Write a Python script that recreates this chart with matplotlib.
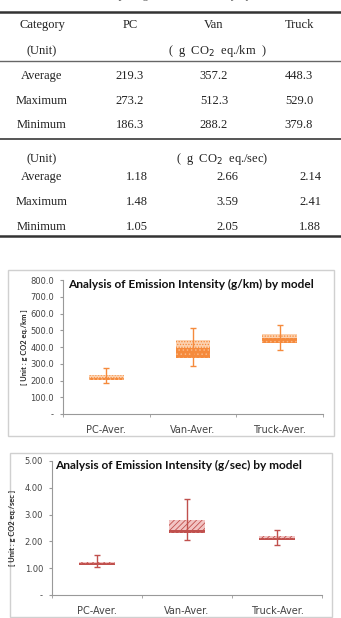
import matplotlib.pyplot as plt
from matplotlib.patches import Rectangle
from matplotlib.lines import Line2D

# table data
columns = ['Category', 'PC', 'Van', 'Truck']
row_names = ['Average', 'Maximum', 'Minimum']
km_avg = [219.3, 357.2, 448.3]
km_max = [273.2, 512.3, 529.0]
km_min = [186.3, 288.2, 379.8]
sec_avg = [1.18, 2.66, 2.14]
sec_max = [1.48, 3.59, 2.41]
sec_min = [1.05, 2.05, 1.88]

# chart data (box bottom / middle / top)
models = ['PC-Aver.', 'Van-Aver.', 'Truck-Aver.']
km_box_low = [204, 335, 425]
km_box_mid = [217, 395, 451]
km_box_top = [231, 443, 476]
sec_box_low = [1.12, 2.32, 2.07]
sec_box_mid = [1.18, 2.44, 2.14]
sec_box_top = [1.25, 2.79, 2.21]
km_ticks = [0, 100, 200, 300, 400, 500, 600, 700, 800]
sec_ticks = [0, 1, 2, 3, 4, 5]

W, H = 341, 618
fig = plt.figure(figsize=(W / 100, H / 100), dpi=100)
fig.patch.set_facecolor('white')


def fx(x):
    return x / W


def fy(y):
    return 1 - y / H


def hline(y, lw, color='#333333'):
    fig.add_artist(Line2D([0, 1], [fy(y), fy(y)], lw=lw, color=color))


def ftext(x, y, s, **kw):
    fig.text(fx(x), fy(y), s, family='Liberation Serif', fontsize=9,
             ha='center', va='center', color='#222222', **kw)


# caption, cut off at the top edge like in the source
fig.text(fx(55), fy(-1.5), 'Table 4. Comparing emission intensity by model',
         family='Liberation Serif', fontsize=8.5, color='#555555', va='baseline')

# table
hline(12, 1.8)
hline(61, 1.0, '#666666')
hline(139, 1.4, '#555555')
hline(236, 1.8)

col_x = [42, 130, 214, 299]
col_x2 = [42, 137, 227, 310]
for x, c in zip(col_x, columns):
    ftext(x, 25, c)
ftext(42, 51, '(Unit)')
ftext(217, 51, r'(  g  CO$_2$  eq./km  )')
for i, name in enumerate(row_names):
    y = 76 + i * 24.5
    ftext(42, y, name)
    vals = [km_avg, km_max, km_min][i]
    for j in range(3):
        ftext(col_x[j + 1], y, f'{vals[j]:.1f}')

ftext(42, 159, '(Unit)')
ftext(222, 159, r'(  g  CO$_2$  eq./sec)')
for i, name in enumerate(row_names):
    y = 177 + i * 25
    ftext(42, y, name)
    vals = [sec_avg, sec_max, sec_min][i]
    for j in range(3):
        ftext(col_x2[j + 1], y, f'{vals[j]:.2f}')

# chart frames
for (x0, y0, x1, y1) in [(8, 270, 334, 436), (10, 453, 332, 617)]:
    fig.add_artist(Rectangle((fx(x0), fy(y1)), fx(x1 - x0), fy(y0) - fy(y1),
                             fill=False, ec='#d0d0d0', lw=1.0))

plt.rcParams['hatch.linewidth'] = 0.6


def box_chart(rect, low, mid, top, vmax, vmin, avg, ticks, fmt, title, ylabel,
              c_dark, c_light, c_mid, hatch_low, hatch_top, title_x, ylab_x):
    ax = fig.add_axes(rect)
    x = range(len(models))
    lo = [m - l for l, m in zip(low, mid)]
    hi = [t - m for m, t in zip(mid, top)]
    ax.bar(x, lo, bottom=low, width=0.4, color=c_dark, edgecolor=c_mid,
           hatch=hatch_low, lw=0)
    ax.bar(x, hi, bottom=mid, width=0.4, color=c_light, edgecolor=c_dark,
           hatch=hatch_top, lw=0)
    yerr = [[a - mn for a, mn in zip(avg, vmin)], [mx - a for a, mx in zip(avg, vmax)]]
    ax.errorbar(x, avg, yerr=yerr, fmt='none', ecolor=c_dark, elinewidth=1.0,
                capsize=2.5, capthick=1.0)
    ax.set_xlim(-0.5, 2.5)
    ax.set_ylim(ticks[0], ticks[-1])
    ax.set_yticks(ticks)
    ax.set_yticklabels(['-'] + [fmt.format(t) for t in ticks[1:]])
    ax.set_xticks(list(x))
    ax.set_xticklabels(models)
    ax.set_xticks([-0.5, 0.5, 1.5, 2.5], minor=True)
    ax.tick_params(axis='x', which='major', length=0, pad=8, labelsize=7,
                   labelcolor='#444444')
    ax.tick_params(axis='x', which='minor', length=2.5, color='#999999')
    ax.tick_params(axis='y', length=2.5, color='#999999', labelsize=6,
                   labelcolor='#444444', pad=4)
    for s in ['top', 'right']:
        ax.spines[s].set_visible(False)
    for s in ['left', 'bottom']:
        ax.spines[s].set_color('#999999')
        ax.spines[s].set_linewidth(0.8)
    ax.set_facecolor('none')
    fig.text(title_x, rect[1] + rect[3] - 0.007, title, family='Lato',
             fontweight='bold', fontsize=8.6, color='#111111', va='center')
    fig.text(ylab_x, rect[1] + rect[3] * 0.5, ylabel, family='Lato',
             fontweight='bold', fontsize=5.4, rotation=90, color='#222222',
             ha='center', va='center')
    return ax


box_chart([fx(63), fy(414), fx(260), 134 / H], km_box_low, km_box_mid, km_box_top,
          km_max, km_min, km_avg, km_ticks, '{:.1f}',
          'Analysis of Emission Intensity (g/km) by model',
          '[ Unit : g CO2 eq./km ]', '#F58A3C', '#FCD2B0', '#FBB784',
          '....', '......', fx(68), fx(24))

box_chart([fx(52), fy(595), fx(270), 134 / H], sec_box_low, sec_box_mid, sec_box_top,
          sec_max, sec_min, sec_avg, sec_ticks, '{:.2f}',
          'Analysis of Emission Intensity (g/sec) by model',
          '[ Unit : g CO2 eq./sec ]', '#C0504D', '#F2C4C3', '#E8A09E',
          '....', '//////', fx(55), fx(13))

fig.savefig('out.png', dpi=100)
